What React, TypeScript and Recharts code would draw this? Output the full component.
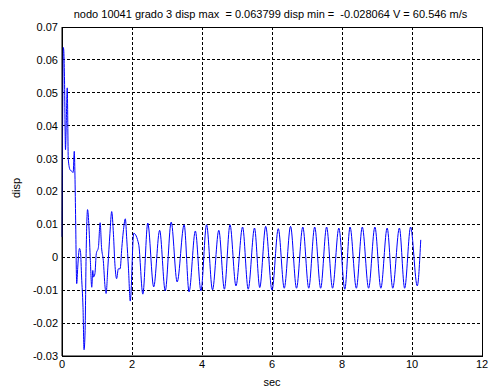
import { LineChart, Line, XAxis, YAxis, CartesianGrid, ReferenceArea } from 'recharts';

// time (sec) and displacement
const times = [
  0, 0.02, 0.035, 0.05, 0.07, 0.1, 0.12, 0.15, 0.18, 0.23, 0.27, 0.32, 0.35, 0.37, 0.39, 0.42,
  0.45, 0.48, 0.5, 0.53, 0.56, 0.6, 0.63, 0.66, 0.69, 0.73, 0.77, 0.81, 0.85, 0.88, 0.9, 0.94,
  0.98, 1.04, 1.09, 1.13, 1.18, 1.23, 1.26, 1.31, 1.37, 1.42, 1.47, 1.51, 1.56, 1.61, 1.66, 1.71,
  1.75, 1.81, 1.85, 1.9, 1.95, 2.05, 2.19, 2.31, 2.45, 2.62, 2.79, 2.95, 3.12, 3.29, 3.49, 3.63,
  3.81, 3.97, 4.13, 4.3, 4.48, 4.64, 4.8, 4.97, 5.16, 5.32, 5.5, 5.65, 5.82, 6.0, 6.18, 6.35,
  6.53, 6.7, 6.88, 7.05, 7.22, 7.39, 7.56, 7.73, 7.91, 8.08, 8.23, 8.41, 8.58, 8.76, 8.94, 9.11,
  9.29, 9.45, 9.64, 9.79, 9.96, 10.15, 10.25,
];
const disp = [
  0.0062, 0.045, 0.0638, 0.063, 0.055, 0.0327, 0.04, 0.0515, 0.0297, 0.0266, 0.0262, 0.0258,
  0.0322, 0.025, 0.0113, -0.008, -0.003, 0.0015, 0.0027, 0.0015, -0.006, -0.0152, -0.0281,
  -0.0223, 0.0012, 0.0145, 0.0093, -0.001, -0.0091, -0.004, -0.006, -0.005, 0.0011, 0.003,
  0.0105, 0.003, -0.001, -0.009, -0.011, -0.003, 0.0073, 0.0139, 0.007, -0.0018, -0.0065,
  -0.0035, -0.0035, 0.003, 0.0077, 0.0117, 0.0055, -0.0035, -0.0133, 0.0073, 0.004, -0.0112,
  0.0104, -0.009, 0.0082, -0.0102, 0.0107, -0.0075, 0.0099, -0.0105, 0.008, -0.0102, 0.0099,
  -0.0099, 0.0082, -0.0097, 0.0099, -0.0087, 0.0092, -0.0097, 0.0089, -0.0092, 0.0094, -0.01,
  0.0087, -0.0094, 0.0094, -0.0094, 0.0092, -0.0094, 0.0092, -0.0094, 0.0092, -0.0094, 0.0089,
  -0.0097, 0.0092, -0.0094, 0.0092, -0.0094, 0.0092, -0.0094, 0.0089, -0.0094, 0.0089, -0.0094,
  0.0092, -0.0087, 0.0053,
];
const xTicks = [0, 2, 4, 6, 8, 10, 12];
const yTicks = [-0.03, -0.02, -0.01, 0, 0.01, 0.02, 0.03, 0.04, 0.05, 0.06, 0.07];
const title = 'nodo 10041 grado 3 disp max  = 0.063799 disp min =  -0.028064 V = 60.546 m/s';

const data = times.map((t, i) => ({ t, d: disp[i] }));
const font = '"Liberation Sans", Arial, sans-serif';
const tickStyle = { fill: '#000', fontSize: 11, fontFamily: font };

export default function App() {
  return (
    <div style={{ position: 'absolute', left: 0, top: 0, width: 503, height: 392, background: '#fff', fontFamily: font }}>
      <div style={{ position: 'absolute', top: 8, left: 0, width: 541, textAlign: 'center', fontSize: 11, whiteSpace: 'pre', color: '#000' }}>
        {title}
      </div>
      <div style={{ position: 'absolute', top: 376, left: 62, width: 420, textAlign: 'center', fontSize: 11, color: '#000' }}>sec</div>
      <div style={{ position: 'absolute', left: 16, top: 188, transform: 'translate(-50%, -50%) rotate(-90deg)', fontSize: 11, color: '#000' }}>disp</div>
      <LineChart width={503} height={392} data={data} margin={{ top: 27, right: 21, bottom: 0, left: 0 }}>
        <CartesianGrid stroke="#000" strokeDasharray="3 2" shapeRendering="crispEdges" />
        <XAxis
          dataKey="t"
          type="number"
          domain={[0, 12]}
          ticks={xTicks}
          height={36}
          tickLine={false}
          tickSize={0}
          tickMargin={4}
          axisLine={{ stroke: '#000' }}
          tick={tickStyle}
        />
        <YAxis
          type="number"
          domain={[-0.03, 0.07]}
          ticks={yTicks}
          width={62}
          tickLine={false}
          tickSize={0}
          tickMargin={4}
          axisLine={{ stroke: '#000' }}
          tick={tickStyle}
          tickFormatter={(v: number) => (Math.abs(v) < 1e-9 ? '0' : v.toFixed(2))}
        />
        <ReferenceArea x1={0} x2={12} y1={-0.03} y2={0.07} fill="none" stroke="#000" strokeWidth={1} shapeRendering="crispEdges" />
        <Line type="monotone" dataKey="d" stroke="#0000ff" strokeWidth={1} dot={false} isAnimationActive={false} />
      </LineChart>
    </div>
  );
}
